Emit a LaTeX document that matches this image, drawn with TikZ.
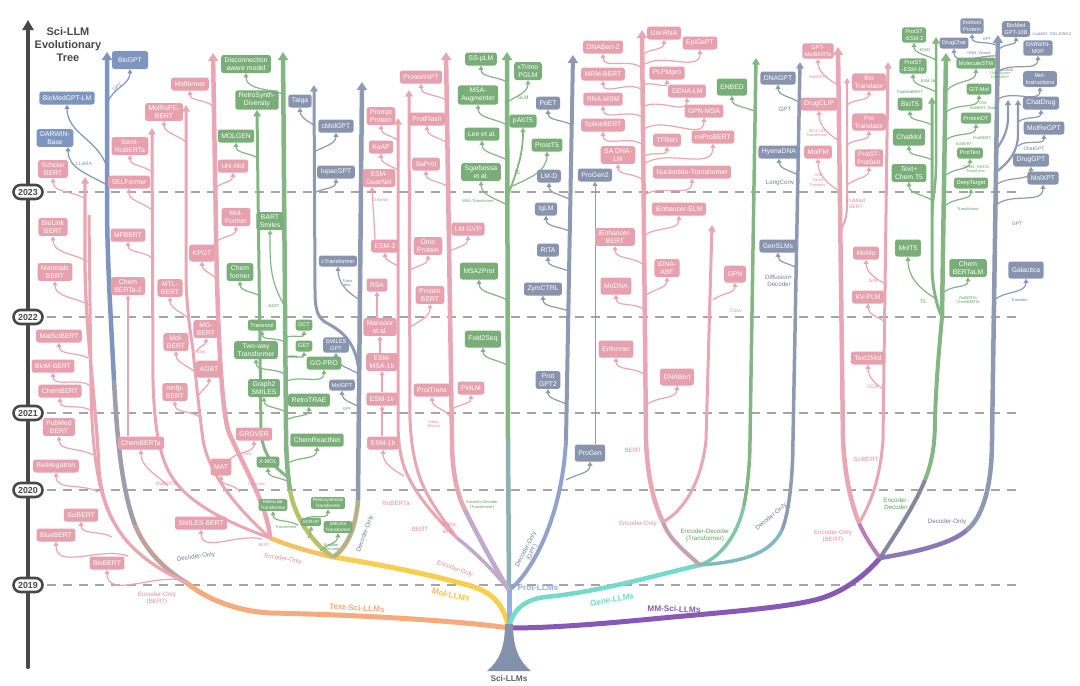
\documentclass[tikz,border=0pt]{standalone}
\usepackage{fontspec}
\setmainfont{Liberation Sans}
\usetikzlibrary{arrows.meta}
\definecolor{pk}{HTML}{E9A6B3}
\definecolor{pkb}{HTML}{E6A0AE}
\definecolor{pkt}{HTML}{E08D9D}
\definecolor{gn}{HTML}{84B684}
\definecolor{gnb}{HTML}{79AE79}
\definecolor{gnt}{HTML}{5E9E5E}
\definecolor{bg}{HTML}{8E9AB2}
\definecolor{bgb}{HTML}{8894AE}
\definecolor{bgt}{HTML}{6F7E9C}
\definecolor{bl}{HTML}{7D95BF}
\definecolor{orc}{HTML}{F5AB7B}
\definecolor{ylc}{HTML}{F9CE4E}
\definecolor{pbl}{HTML}{95ACE5}
\definecolor{tlc}{HTML}{74DACB}
\definecolor{ppc}{HTML}{8659B7}
\definecolor{dsh}{HTML}{A5A5A5}
\definecolor{axc}{HTML}{484848}
\definecolor{rootc}{HTML}{8391AB}
\pgfdeclarelayer{dash}
\pgfdeclarelayer{back}
\pgfsetlayers{dash,back,main}
\newcounter{lbc}
\newcommand\mylink[4]{\coordinate (s-#4) at (#2);\draw[cn,#1] (s-#4) to[out=#3,in=-90] (#4.south);}
\newcommand\mylab[3]{\stepcounter{lbc}\node[#1] (lab\arabic{lbc}) at (#2) {#3};}
\begin{document}
\begin{tikzpicture}[x=1pt,y=1pt,line cap=round,line join=round,
  cn/.style={line width=1.2pt,-{Triangle[width=4.8pt,length=4.2pt]}},
  tkA/.style={line width=5pt,-{Triangle[width=10pt,length=8pt]}},
  tkB/.style={line width=3pt,-{Triangle[width=7.5pt,length=6.5pt]}},
  bx/.style={rounded corners=2.5pt,inner xsep=3.5pt,inner ysep=2.4pt,text=white,align=center,font=\fontsize{6.8}{8.2}\selectfont,minimum height=13pt},
  pb/.style={bx,fill=pkb}, gb/.style={bx,fill=gnb}, bb/.style={bx,fill=bgb},
  md/.style={font=\fontsize{6.4}{7.8}\selectfont,inner xsep=2.5pt},
  sm/.style={font=\fontsize{5.6}{6.6}\selectfont,inner xsep=2.5pt,minimum height=11pt},
  tn/.style={font=\fontsize{4.6}{5.4}\selectfont,inner xsep=2pt,inner ysep=1.6pt,minimum height=8pt},
  hi/.style={minimum height=17pt},
  lbm/.style={font=\fontsize{6.2}{7}\selectfont,align=center,inner sep=0.5pt},
  lb/.style={font=\fontsize{5}{5.8}\selectfont,align=center,inner sep=0.5pt},
  lbs/.style={font=\fontsize{4}{4.7}\selectfont,align=center,inner sep=0.3pt},
  big/.style={font=\bfseries\fontsize{8.2}{9}\selectfont,inner sep=0.5pt},
  yr/.style={draw=axc,line width=2.6pt,fill=white,rounded corners=7pt,minimum width=29pt,minimum height=14pt,inner sep=0pt,font=\bfseries\fontsize{8.8}{10}\selectfont,text=axc},
  dl/.style={dsh,line width=2.8pt,dash pattern=on 9pt off 7pt,line cap=butt}
]
\useasboundingbox (0,0) rectangle (1080,-686);
\begin{pgfonlayer}{dash}
\fill[white] (0,0) rectangle (1080,-686);
\end{pgfonlayer}

% axis, title, years
\coordinate (axbot) at (28,-667); \coordinate (axtop) at (28,-20);
\draw[axc,line width=4.2pt,-{Triangle[width=11pt,length=10pt]}] (axbot) -- (axtop);
\node[font=\bfseries\fontsize{11}{13}\selectfont,text=axc,align=center] (title) at (68,-45) {Sci-LLM\\Evolutionary\\Tree};
\foreach \yy/\nm in {192/2023,317/2022,413/2021,490/2020,585/2019}{
  \node[yr] (y\nm) at (28,-\yy) {\nm};
  \coordinate (d\nm) at (1020,-\yy);
  \begin{pgfonlayer}{dash}
  \draw[dl] (y\nm.east) ++(3pt,0) -- (d\nm);
  \end{pgfonlayer}
}

% root
\coordinate (root) at (509,-628);
\fill[rootc] (505,-624) .. controls (505,-648) and (499,-661) .. (487,-671) -- (531,-671) .. controls (519,-661) and (513,-648) .. (513,-624) -- cycle;
\node[font=\bfseries\fontsize{8.3}{9}\selectfont,text=axc!85] (rootlab) at (509,-679) {Sci-LLMs};

% ---------- boxes: Text ----------
\node[bb,fill=bl,minimum height=18pt,minimum width=36pt] (biogpt) at (130,-60) {BioGPT};
\node[bb,fill=bl] (biomedgptlm) at (67,-98) {BioMedGPT-LM};
\node[bb,fill=bl] (darwinbase) at (55,-138) {DARWIN-\\Base};
\node[pb] (scholarbert) at (53,-169) {Scholar\\BERT};
\node[pb] (biolinkbert) at (53,-227) {BioLink\\BERT};
\node[pb] (materialsbert) at (55,-272) {Materials\\BERT};
\node[pb] (matscibert) at (59,-336) {MatSciBERT};
\node[pb] (biombert) at (53,-366) {BioM-BERT};
\node[pb] (chembert) at (60,-391) {ChemBERT};
\node[pb] (pubmedbert) at (59,-427) {PubMed\\BERT};
\node[pb] (biomegatron) at (56,-466) {BioMegatron};
\node[pb] (scibert) at (81,-515) {SciBERT};
\node[pb] (bluebert) at (56,-535) {BlueBERT};
\node[pb] (biobert) at (107,-563) {BioBERT};
% ---------- Mol pink ----------
\node[pb] (semiroberta) at (130,-146) {Semi-\\RoBERTa};
\node[pb] (selformer) at (129,-182) {SELFormer};
\node[pb] (mfbert) at (128,-235) {MFBERT};
\node[pb] (chemberta2) at (128,-286) {Chem\\BERTa-2};
\node[pb] (chemberta) at (141,-443) {ChemBERTa};
\node[pb] (molropebert) at (164,-112) {MolRoPE-\\BERT};
\node[pb] (mtlbert) at (170,-288) {MTL-\\BERT};
\node[pb] (molbert) at (176,-342) {Mol-\\BERT};
\node[pb] (mgbert) at (206,-329) {MG-\\BERT};
\node[pb,hi] (agbt) at (209,-369) {AGBT};
\node[pb] (mnfpbert) at (175,-392) {mnfp-\\BERT};
\node[pb] (molformer) at (190,-84) {Molformer};
\node[pb] (unimol) at (233,-166) {Uni-Mol};
\node[pb] (molformer2) at (236,-217) {Mol-\\Former};
\node[pb,hi] (kpgt) at (202,-253) {KPGT};
\node[pb] (grover) at (254,-434) {GROVER};
\node[pb,hi] (mat) at (221,-467) {MAT};
\node[pb] (smilesbert) at (201,-523) {SMILES-BERT};
% ---------- Mol green ----------
\node[gb] (disconn) at (246,-64) {Disconnection\\aware model};
\node[gb] (retrosynth) at (257,-100) {RetroSynth-\\Diversity};
\node[gb] (molgen) at (236,-136) {MOLGEN};
\node[gb] (bartsmiles) at (270,-221) {BART\\Smiles};
\node[gb] (chemformer) at (240,-272) {Chem\\former};
\node[gb,sm] (transmol) at (262,-325) {Transmol};
\node[gb] (twoway) at (256,-350) {Two-way\\Transformer};
\node[gb] (graph2smiles) at (264,-388) {Graph2\\SMILES};
\node[gb,sm] (gct) at (304,-325) {GCT};
\node[gb,sm] (get) at (304,-346) {GET};
\node[gb] (gopro) at (324,-363) {GO-PRO};
\node[gb] (retrotrae) at (309,-400) {RetroTRAE};
\node[gb] (chemreactnet) at (317,-440) {ChemReactNet};
\node[gb,sm] (xmol) at (268,-462) {X-MOL};
\node[gb,tn] (moltrans) at (273,-505) {Molecular\\Transformer};
\node[gb,tn] (retrotrans) at (328,-503) {Retrosynthesis\\Transformer};
\node[gb,tn] (scrop) at (311,-522) {SCROP};
\node[gb,tn] (smilestrans) at (338,-527) {SMILES\\Transformer};
% ---------- Mol blue ----------
\node[bb] (taiga) at (300,-101) {Taiga};
\node[bb] (cmolgpt) at (336,-126) {cMolGPT};
\node[bb] (iupacgpt) at (336,-172) {IupacGPT};
\node[bb,sm] (ctransformer) at (338,-261) {cTransformer};
\node[bb,sm] (smilesgpt) at (336,-345) {SMILES\\GPT};
\node[bb,sm] (molgpt) at (342,-385) {MolGPT};
% ---------- Prot pink ----------
\node[pb] (promptprotein) at (381,-116) {Prompt\\Protein};
\node[pb] (koap) at (381,-147) {KoAP};
\node[pb] (esmgearnet) at (379,-178) {ESM-\\GearNet};
\node[pb] (esm2) at (385,-246) {ESM-2};
\node[pb] (rsa) at (377,-285) {RSA};
\node[pb] (mansoor) at (380,-327) {Mansoor\\et al.};
\node[pb] (esmmsa) at (382,-362) {ESM-\\MSA-1b};
\node[pb] (esm1v) at (382,-399) {ESM-1v};
\node[pb] (esm1b) at (383,-443) {ESM-1b};
\node[pb] (proteinnpt) at (421,-77) {ProteinNPT};
\node[pb] (protflash) at (427,-119) {ProtFlash};
\node[pb] (saprot) at (426,-164) {SaProt};
\node[pb] (ontoprotein) at (428,-246) {Onto\\Protein};
\node[pb] (proteinbert) at (430,-295) {Protein\\BERT};
\node[pb] (lmgvp) at (468,-229) {LM-GVP};
\node[pb] (prottrans) at (432,-390) {ProtTrans};
\node[pb] (pmlm) at (471,-388) {PMLM};
% ---------- Prot green ----------
\node[gb] (ssplm) at (481,-59) {SS-pLM};
\node[gb] (msaaug) at (478,-95) {MSA-\\Augmenter};
\node[gb] (xtrimo) at (528,-71) {xTrimo\\PGLM};
\node[gb] (pabt5) at (523,-121) {pAbT5};
\node[gb] (leeetal) at (482,-134) {Lee et al.};
\node[gb] (prostt5) at (547,-145) {ProstT5};
\node[gb] (sgarbossa) at (481,-172) {Sgarbossa\\et al.};
\node[gb,hi] (msa2prot) at (479,-271) {MSA2Prot};
\node[gb,hi] (fold2seq) at (483,-339) {Fold2Seq};
% ---------- Prot blue ----------
\node[bb] (poet) at (548,-103) {PoET};
\node[bb] (lmd) at (549,-176) {LM-D};
\node[bb] (iglm) at (546,-209) {IgLM};
\node[bb] (rita) at (548,-250) {RITA};
\node[bb] (zymctrl) at (543,-289) {ZymCTRL};
\node[bb] (protgpt2) at (548,-380) {Prot\\GPT2};
\node[bb,hi] (progen) at (590,-453) {ProGen};
\node[bb] (progen2) at (595,-175) {ProGen2};
% ---------- Gene ----------
\node[pb] (dnabert2) at (603,-47) {DNABert-2};
\node[pb] (unirna) at (664,-33) {Uni-RNA};
\node[pb] (epigept) at (700,-43) {EpiGePT};
\node[pb] (mrmbert) at (603,-74) {MRM-BERT};
\node[pb] (plpmpro) at (667,-73) {PLPMpro};
\node[pb] (genalm) at (687,-91) {GENA-LM};
\node[pb] (rnamsm) at (603,-99) {RNA-MSM};
\node[pb] (gpnmsa) at (704,-111) {GPN-MSA};
\node[pb] (splicebert) at (603,-125) {SpliceBERT};
\node[pb] (tfbert) at (667,-140) {TFBert};
\node[pb] (miprobert) at (713,-137) {miProBERT};
\node[pb] (sadnalm) at (618,-155) {SA DNA-\\LM};
\node[pb] (nuctrans) at (692,-172) {Nucleotide-Transformer};
\node[pb] (ienhancerelm) at (679,-209) {iEnhancer-ELM};
\node[pb] (ienhancerbert) at (615,-237) {iEnhancer-\\BERT};
\node[pb] (idnaabf) at (667,-268) {iDNA-\\ABF};
\node[pb,hi] (modna) at (616,-286) {MoDNA};
\node[pb,hi] (enformer) at (616,-349) {Enformer};
\node[pb,hi] (dnabert) at (677,-377) {DNABert};
\node[pb,hi] (gpn) at (735,-274) {GPN};
\node[gb,hi] (enbed) at (732,-87) {ENBED};
\node[bb] (dnagpt) at (778,-78) {DNAGPT};
\node[bb] (hyenadna) at (779,-152) {HyenaDNA};
\node[bb] (genslms) at (778,-246) {GenSLMs};
% ---------- MM pink ----------
\node[pb,sm] (gptmolberta) at (818,-51) {GPT-\\MolBERTa};
\node[pb] (drugclip) at (819,-104) {DrugCLIP};
\node[pb] (molfm) at (818,-152) {MolFM};
\node[pb,md] (biotranslator) at (869,-82) {Bio\\Translator};
\node[pb,md] (protranslator) at (869,-122) {Pro\\Translator};
\node[pb,md] (protstprotbert) at (869,-158) {ProtST-\\ProtBert};
\node[pb] (momu) at (866,-253) {MoMu};
\node[pb] (kvplm) at (868,-297) {KV-PLM};
\node[pb] (text2mol) at (868,-358) {Text2Mol};
% ---------- MM green ----------
\node[gb,sm] (protstesm2) at (914,-35) {ProtST\\-ESM-2};
\node[gb,sm] (protstesm1b) at (913,-66) {ProtST\\-ESM-1b};
\node[gb] (biot5) at (910,-104) {BioT5};
\node[gb,hi] (chatmol) at (909,-137) {ChatMol};
\node[gb] (textchemt5) at (909,-173) {Text+\\Chem T5};
\node[gb,hi] (molt5) at (908,-248) {MolT5};
\node[gb,sm] (moleculestm) at (976,-63) {MoleculeSTM};
\node[gb,sm] (gitmol) at (979,-89) {GIT-Mol};
\node[gb,sm] (proteindt) at (976,-118) {ProteinDT};
\node[gb,sm] (prottext) at (970,-153) {ProtText};
\node[gb,sm] (deeptarget) at (971,-183) {DeepTarget};
\node[gb] (chembertalm) at (968,-268) {Chem\\BERTaLM};
% ---------- MM blue ----------
\node[bb,sm] (drugchat) at (954,-43) {DrugChat};
\node[bb,sm] (instructprotein) at (972,-26) {Instruct\\Protein};
\node[bb,sm] (biomedgpt10b) at (1016,-29) {BioMed\\GPT-10B};
\node[bb,sm] (darwinmdp) at (1038,-48) {DARWIN-\\MDP};
\node[bb,sm] (molinstructions) at (1040,-79) {Mol-\\Instructions};
\node[bb] (chatdrug) at (1041,-103) {ChatDrug};
\node[bb] (molregpt) at (1044,-128) {MolReGPT};
\node[bb] (druggpt) at (1031,-160) {DrugGPT};
\node[bb] (molxpt) at (1043,-178) {MolXPT};
\node[bb,hi] (galactica) at (1026,-270) {Galactica};

% ---------- labels ----------
\mylab{lb,text=bl,rotate=35}{117,-87}{GPT}
\mylab{lb,text=bl}{84,-164}{LLaMA}
\mylab{lbm,text=bgt,rotate=8}{196,-557}{Decoder-Only}
\mylab{lbm,text=pkt}{157,-598}{Encoder-Only\\(BERT)}
\mylab{lb,text=pkt}{167,-484}{RoBERTa}
\mylab{lbs,text=pkt}{247,-454}{GNN}
\mylab{lbs,text=pkt}{257,-484}{Trans.enc.}
\mylab{lbs,text=pkt}{201,-352}{GNN}
\mylab{lbs,text=pkt}{264,-545}{BERT}
\mylab{lbm,text=pkt,rotate=-10}{283,-559}{Encoder-Only}
\mylab{lbs,text=gnt}{274,-306}{BART}
\mylab{lbs,text=gnt}{293,-357}{GNN}
\mylab{lbs,text=gnt}{286,-527}{Transformer}
\mylab{lbs,text=gnt}{332,-547}{Encoder-\\Decoder}
\mylab{lbm,text=bgt,rotate=70}{365,-534}{Decoder-Only}
\mylab{lbs,text=bgt}{348,-283}{Trans.\\dec.}
\mylab{lbs,text=bgt}{347,-409}{GPT}
\mylab{lbs,text=pkt}{381,-200}{GearNet}
\mylab{lbs,text=pkt}{434,-424}{Albert,\\Electra}
\mylab{lbm,text=pkt}{396,-503}{RoBERTa}
\mylab{lbm,text=pkt}{420,-529}{BERT}
\mylab{lbm,text=pkt}{449,-528}{Trans.\\enc.}
\mylab{lbm,text=pkt,rotate=-20}{455,-569}{Encoder-Only}
\mylab{lbs,text=gnt}{482,-505}{Encoder-Decoder\\(Transformer)}
\mylab{lbm,text=bgt,rotate=62}{529,-551}{Decoder-Only\\(GPT)}
\mylab{lb,text=gnt}{523,-98}{GLM}
\mylab{lb,text=gnt}{517,-173}{T5}
\mylab{lbs,text=gnt}{478,-201}{MSA Transformer}
\mylab{lbm,text=pkt}{638,-524}{Encoder-Only}
\mylab{lbm,text=gnt}{705,-535}{Encoder-Decoder\\(Transformer)}
\mylab{lbm,text=bgt,rotate=40}{771,-517}{Decoder-Only}
\mylab{lbm,text=pkt}{633,-450}{BERT}
\mylab{lb,text=pkt}{736,-311}{Conv}
\mylab{lbm,text=bgt}{785,-109}{GPT}
\mylab{lbm,text=bgt}{780,-183}{LongConv}
\mylab{lbm,text=bgt}{779,-281}{Diffusion+\\Decoder}
\mylab{lbm,text=pkt}{866,-459}{SciBERT}
\mylab{lbm,text=gnt}{896,-504}{Encoder-\\Decoder}
\mylab{lbm,text=pkt}{833,-536}{Encoder-Only\\(BERT)}
\mylab{lbm,text=bgt}{947,-522}{Decoder-Only}
\mylab{lbs,text=pkt}{818,-77}{RoBERTa}
\mylab{lbs,text=pkt}{817,-133}{SE(3) 3D\\Transformer}
\mylab{lbs,text=pkt}{818,-180}{GIN\\Transf.\\Transenc.}
\mylab{lb,text=pkt}{856,-204}{PubMed\\BERT}
\mylab{lb,text=pkt}{873,-281}{GIN}
\mylab{lb,text=pkt}{873,-387}{GCN}
\mylab{lbs,text=gnt}{925,-50}{ESM2}
\mylab{lbs,text=gnt}{928,-81}{ESM-1b}
\mylab{lbs,text=gnt}{910,-92}{PubMedBERT}
\mylab{lb,text=gnt}{923,-302}{T5}
\mylab{lbs,text=gnt}{968,-300}{RoBERTa\\ChemBERTa}
\mylab{lbs,text=gnt,font=\fontsize{3.6}{4.1}\selectfont}{1000,-76}{Chemformer\\GraphMVP}
\mylab{lbs,text=gnt}{983,-106}{GIN\\SciBERT, Swin}
\mylab{lbs,text=gnt}{982,-138}{ProtBERT}
\mylab{lbs,text=gnt}{964,-144}{SciBERT}
\mylab{lbs,text=gnt}{976,-169}{GPM2, HGCN\\Transf.enc.}
\mylab{lbs,text=gnt}{968,-209}{Transformer}
\mylab{lbs,text=bgt}{987,-39}{GPT}
\mylab{lbs,text=bgt}{979,-53}{GNN, Vicuna}
\mylab{lbs,text=bgt}{1052,-34}{LLaMA2, GIN, ESM-2}
\mylab{lbs,text=bgt}{1007,-70}{LLaMA}
\mylab{lb,text=bgt}{1034,-149}{ChatGPT}
\mylab{lb,text=bgt}{1017,-224}{GPT}
\mylab{lbs,text=bgt}{1020,-300}{Transdec.}
\mylab{big,text=orc,rotate=-3}{357,-608}{Text-Sci-LLMs}
\mylab{big,text=ylc!85!orange,rotate=-12}{451,-595}{Mol-LLMs}
\mylab{big,text=pbl}{538,-588}{Prot-LLMs}
\mylab{big,text=tlc,rotate=10}{612,-600}{Gene-LLMs}
\mylab{big,text=ppc,rotate=-2}{674,-609}{MM-Sci-LLMs}

\begin{pgfonlayer}{back}
% ===== Text-Sci-LLMs =====
\coordinate (fkT) at (187,-583);
\draw[orc,line width=5pt] (root) .. controls (470,-622) and (370,-615) .. (270,-613) .. controls (235,-611) and (205,-598) .. (fkT);
\coordinate (td1) at (135,-525); \coordinate (td2) at (114,-380); \coordinate (tdtop) at (107,-52);
\draw[orc!55!bl,line width=4.5pt] (fkT) .. controls (165,-570) and (145,-550) .. (td1);
\draw[bl!70!orc,line width=4.5pt] (td1) .. controls (122,-490) and (117,-440) .. (td2);
\draw[bl,tkA,line width=4.5pt] (td2) .. controls (111,-320) and (107,-260) .. (107,-200) -- (tdtop);
\coordinate (te1top) at (85,-177);
\draw[pk,tkB,line width=3.3pt] (fkT) .. controls (150,-565) and (105,-540) .. (99,-470) .. controls (96,-400) and (85,-330) .. (85,-260) -- (te1top);
\coordinate (te2a) at (114,-522); \coordinate (te2top) at (89,-215);
\draw[pk,line width=3pt] (te2a) .. controls (97,-495) and (92,-445) .. (91,-390) -- (te2top);
\mylink{pk}{84,-198}{150}{scholarbert}
\mylink{pk}{89,-262}{150}{biolinkbert}
\mylink{pk}{89,-305}{150}{materialsbert}
\mylink{pk}{88,-358}{150}{matscibert}
\mylink{pk}{89,-385}{150}{biombert}
\mylink{pk}{90,-410}{150}{chembert}
\mylink{pk}{93,-455}{150}{pubmedbert}
\mylink{pk}{98,-492}{150}{biomegatron}
\mylink{pk}{112,-537}{150}{scibert}
\mylink{pk}{128,-556}{160}{bluebert}
\mylink{pk}{180,-580}{170}{biobert}
\mylink{bl}{108,-102}{70}{biogpt}
\mylink{bl}{107,-168}{105}{biomedgptlm}
\coordinate (s-darwinbase) at (107,-185);
\draw[cn,bl] (s-darwinbase) to[out=150,in=-90] ([xshift=13pt]darwinbase.south);

% ===== Mol-LLMs =====
\coordinate (fkM) at (333,-557); \coordinate (fkME) at (270,-538);
\draw[ylc,line width=5pt] (root) .. controls (502,-600) and (490,-590) .. (460,-583) .. controls (420,-572) and (370,-563) .. (fkM);
\draw[ylc!60!orc,line width=4.5pt] (fkM) .. controls (310,-552) and (290,-546) .. (fkME);
\draw[pk,tkB] (fkME) .. controls (235,-525) and (185,-505) .. (168,-470) .. controls (158,-450) and (154,-420) .. (153,-380) -- (152,-128);
\draw[pk,tkB] (fkME) .. controls (245,-515) and (210,-480) .. (203,-440) .. controls (199,-410) and (196,-380) .. (193,-350) .. controls (190,-330) and (187,-310) .. (186,-280) -- (186,-105);
\draw[pk,tkA,line width=4.5pt] (fkME) .. controls (268,-505) and (240,-460) .. (228,-430) .. controls (220,-400) and (217,-300) .. (216,-230) -- (213,-53);
\mylink{pk}{152,-172}{140}{semiroberta}
\mylink{pk}{152,-210}{140}{selformer}
\mylink{pk}{152,-258}{140}{mfbert}
\draw[cn,pk] (chemberta2.south |- chemberta.north) -- (chemberta2.south);
\mylink{pk}{168,-486}{135}{chemberta}
\mylink{pk}{186,-142}{140}{molropebert}
\mylink{pk}{188,-318}{140}{mtlbert}
\mylink{pk}{195,-372}{140}{molbert}
\mylink{pk}{196,-352}{60}{mgbert}
\mylink{pk}{199,-395}{60}{agbt}
\mylink{pk}{201,-418}{140}{mnfpbert}
\mylink{pk}{213,-106}{140}{molformer}
\mylink{pk}{215,-188}{40}{unimol}
\mylink{pk}{216,-242}{40}{molformer2}
\mylink{pk}{216,-278}{140}{kpgt}
\mylink{pk}{228,-462}{60}{grover}
\mylink{pk}{240,-492}{120}{mat}
\mylink{pk}{262,-539}{165}{smilesbert}
% green
\coordinate (g1a) at (290,-490);
\draw[ylc!45!gn,line width=4.5pt] (fkM) .. controls (315,-545) and (295,-520) .. (g1a);
\draw[gn,tkA,line width=4.5pt] (g1a) .. controls (287,-470) and (286,-450) .. (286,-430) -- (283,-52);
\coordinate (g2a) at (289,-478);
\draw[gn,tkB] (g2a) .. controls (275,-468) and (262,-455) .. (261,-430) -- (retrosynth.south);
\mylink{gn}{283,-94}{160}{disconn}
\mylink{gn}{258,-158}{150}{molgen}
\mylink{gn}{284,-305}{120}{bartsmiles}
\mylink{gn}{260,-296}{150}{chemformer}
\mylink{gn}{285,-342}{150}{transmol}
\mylink{gn}{285,-374}{150}{twoway}
\mylink{gn}{286,-412}{150}{graph2smiles}
\mylink{gn}{285,-338}{30}{gct}
\mylink{gn}{285,-358}{30}{get}
\mylink{gn}{285,-382}{30}{gopro}
\mylink{gn}{286,-420}{30}{retrotrae}
\mylink{gn}{288,-463}{30}{chemreactnet}
\mylink{gn}{289,-482}{150}{xmol}
\mylink{gn}{298,-525}{150}{moltrans}
\mylink{gn}{301,-522}{60}{retrotrans}
\mylink{gn}{308,-538}{60}{scrop}
\mylink{gn}{320,-551}{45}{smilestrans}
% blue
\coordinate (b1a) at (358,-500);
\draw[ylc!40!bg,line width=4.5pt] (fkM) .. controls (345,-550) and (356,-530) .. (b1a);
\draw[bg,tkA,line width=4.5pt] (b1a) -- (362,-82);
\coordinate (b2a) at (359,-372);
\draw[bg,tkB] (b2a) .. controls (356,-340) and (340,-330) .. (325,-322) .. controls (316,-316) and (315,-305) .. (315,-290) -- (314,-85);
\mylink{bg}{314,-125}{150}{taiga}
\mylink{bg}{314,-152}{30}{cmolgpt}
\mylink{bg}{314,-193}{30}{iupacgpt}
\mylink{bg}{360,-300}{150}{ctransformer}
\mylink{bg}{359,-374}{150}{smilesgpt}
\mylink{bg}{359,-407}{150}{molgpt}

% ===== Prot-LLMs =====
\coordinate (fkP) at (509,-590);
\draw[pbl,line width=5pt] (root) -- (fkP);
\coordinate (pga) at (508,-440);
\draw[pbl!50!gn,line width=4.5pt] (fkP) -- (pga);
\draw[gn,tkA,line width=4.5pt] (pga) -- (507,-52);
\coordinate (pda) at (566,-440);
\draw[pbl!50!bg,line width=4pt] (fkP) .. controls (530,-575) and (562,-520) .. (pda);
\draw[bg,tkA,line width=4pt] (pda) -- (573,-55);
\coordinate (fkPE) at (457,-538);
\draw[pbl!50!pk,line width=3.5pt] (fkP) .. controls (495,-572) and (475,-552) .. (fkPE);
\draw[pk,tkB] (fkPE) .. controls (440,-522) and (420,-500) .. (410,-480) .. controls (402,-465) and (398,-450) .. (398,-420) -- (398,-118);
\draw[pk,tkB] (fkPE) .. controls (442,-518) and (425,-496) .. (418,-472) .. controls (413,-455) and (411,-440) .. (410,-420) -- (409,-90);
\coordinate (pp3a) at (465,-510);
\draw[pbl!45!pk,line width=4.5pt] (fkP) .. controls (495,-568) and (475,-530) .. (pp3a);
\draw[pk,tkA,line width=4.5pt] (pp3a) .. controls (455,-490) and (452,-465) .. (452,-440) -- (446,-52);
\mylink{pk}{398,-140}{150}{promptprotein}
\mylink{pk}{398,-170}{150}{koap}
\draw[cn,pk] ([xshift=-10pt]esm2.north) -- ([xshift=-7pt]esmgearnet.south);
\mylink{pk}{398,-266}{150}{esm2}
\draw[cn,pk] (rsa.south |- mansoor.north) -- (rsa.south);
\draw[cn,pk] (mansoor.south |- esmmsa.north) -- (mansoor.south);
\draw[cn,pk] (esmmsa.south |- esm1v.north) -- (esmmsa.south);
\draw[cn,pk] (esm1v.south |- esm1b.north) -- (esm1v.south);
\mylink{pk}{404,-476}{150}{esm1b}
\mylink{pk}{446,-100}{150}{proteinnpt}
\mylink{pk}{446,-142}{150}{protflash}
\mylink{pk}{447,-186}{150}{saprot}
\mylink{pk}{410,-270}{30}{ontoprotein}
\mylink{pk}{410,-327}{30}{proteinbert}
\mylink{pk}{448,-252}{30}{lmgvp}
\mylink{pk}{451,-418}{120}{prottrans}
\mylink{pk}{451,-410}{40}{pmlm}
\mylink{gn}{507,-82}{150}{ssplm}
\mylink{gn}{507,-125}{150}{msaaug}
\mylink{gn}{507,-102}{30}{xtrimo}
\mylink{gn}{507,-160}{150}{leeetal}
\mylink{gn}{507,-205}{150}{sgarbossa}
\coordinate (t5s) at (507,-198);
\draw[cn,gn,line width=1.8pt] (t5s) to[out=70,in=-90] (pabt5.south);
\mylink{gn}{508,-188}{25}{prostt5}
\mylink{gn}{507,-300}{150}{msa2prot}
\mylink{gn}{507,-365}{150}{fold2seq}
\mylink{bg}{572,-125}{150}{poet}
\mylink{bg}{571,-200}{150}{lmd}
\mylink{bg}{571,-232}{150}{iglm}
\mylink{bg}{570,-272}{150}{rita}
\mylink{bg}{570,-312}{150}{zymctrl}
\mylink{bg}{568,-405}{150}{protgpt2}
\mylink{bg}{566,-480}{30}{progen}
\draw[cn,bg,line width=1pt] (progen2.south |- progen.north) -- (progen2.south);

% ===== Gene-LLMs =====
\coordinate (fkG) at (700,-565);
\draw[tlc,line width=4.5pt] (root) .. controls (512,-612) and (522,-600) .. (545,-597) .. controls (600,-592) and (660,-574) .. (fkG);
\coordinate (fkGE) at (663,-522);
\draw[pk!60!bg,line width=4pt] (fkG) .. controls (685,-552) and (668,-538) .. (fkGE);
\draw[pk,tkA,line width=4.5pt] (fkGE) .. controls (652,-500) and (647,-470) .. (646,-440) -- (642,-30);
\draw[pk,tkB] (fkGE) .. controls (685,-510) and (702,-480) .. (706,-440) -- (712,-225);
\coordinate (gga) at (744,-505);
\draw[tlc!50!gn,line width=3.5pt] (fkG) .. controls (720,-558) and (738,-535) .. (gga);
\draw[gn,tkB,line width=3.5pt] (gga) .. controls (748,-485) and (750,-460) .. (750,-440) -- (756,-58);
\coordinate (gba) at (782,-530);
\draw[tlc!50!bg,line width=3.5pt] (fkG) .. controls (740,-562) and (770,-555) .. (gba);
\draw[bg,tkB,line width=3.5pt] (gba) .. controls (790,-510) and (793,-470) .. (793,-440) -- (800,-62);
\mylink{pk}{642,-55}{40}{unirna}
\mylink{pk}{642,-66}{40}{epigept}
\mylink{pk}{642,-68}{140}{dnabert2}
\mylink{pk}{642,-90}{140}{mrmbert}
\mylink{pk}{642,-86}{40}{plpmpro}
\mylink{pk}{642,-108}{40}{genalm}
\mylink{pk}{643,-118}{140}{rnamsm}
\mylink{pk}{643,-130}{40}{gpnmsa}
\mylink{pk}{643,-145}{140}{splicebert}
\mylink{pk}{643,-157}{40}{tfbert}
\mylink{pk}{643,-165}{40}{miprobert}
\mylink{pk}{643,-180}{140}{sadnalm}
\mylink{pk}{643,-196}{40}{nuctrans}
\mylink{pk}{644,-236}{40}{ienhancerelm}
\mylink{pk}{644,-265}{140}{ienhancerbert}
\mylink{pk}{645,-296}{40}{idnaabf}
\mylink{pk}{645,-310}{140}{modna}
\mylink{pk}{645,-375}{140}{enformer}
\mylink{pk}{646,-405}{40}{dnabert}
\mylink{pk}{713,-300}{40}{gpn}
\mylink{gn}{756,-112}{150}{enbed}
\mylink{bg}{799,-102}{150}{dnagpt}
\mylink{bg}{798,-175}{150}{hyenadna}
\mylink{bg}{797,-268}{150}{genslms}

% ===== MM-Sci-LLMs =====
\coordinate (fkMM) at (880,-558);
\draw[ppc,line width=5pt] (root) .. controls (560,-628) and (620,-622) .. (673,-617) .. controls (740,-611) and (800,-606) .. (825,-597) .. controls (850,-588) and (868,-572) .. (fkMM);
\coordinate (fkMP) at (859,-523);
\draw[ppc!50!pk,line width=4pt] (fkMM) .. controls (872,-547) and (864,-535) .. (fkMP);
\draw[pk,tkA,line width=4.5pt] (fkMP) .. controls (852,-505) and (845,-480) .. (843,-440) -- (838,-47);
\draw[pk,tkB] (fkMP) .. controls (870,-505) and (880,-480) .. (883,-440) -- (888,-62);
\coordinate (mp3) at (839,-232);
\draw[pk,line width=2pt,-{Triangle[width=6pt,length=5pt]}] (mp3) .. controls (844,-225) and (847,-218) .. (847,-205) -- (847,-78);
\coordinate (mga) at (925,-480); \coordinate (fkMG) at (942,-317);
\draw[ppc!50!gn,line width=4pt] (fkMM) .. controls (895,-535) and (915,-505) .. (mga);
\draw[gn,line width=4pt] (mga) .. controls (932,-462) and (935,-445) .. (935,-420) .. controls (936,-380) and (940,-340) .. (fkMG);
\draw[gn,tkA,line width=4.5pt] (fkMG) -- (946,-53);
\draw[gn,tkB] (fkMG) .. controls (936,-305) and (932,-285) .. (932,-265) -- (932,-97);
\coordinate (mgc) at (932,-215);
\draw[gn,tkB,line width=2.5pt] (mgc) .. controls (933,-195) and (936,-185) .. (936,-165) -- (936,-37);
\coordinate (mba) at (967,-530);
\draw[ppc!50!bg,line width=4.5pt] (fkMM) .. controls (910,-553) and (950,-545) .. (mba);
\draw[bg,tkA,line width=4.5pt] (mba) .. controls (985,-515) and (992,-480) .. (992,-440) -- (998,-35);
\coordinate (mb1) at (996,-150);
\draw[bg,line width=2.2pt,-{Triangle[width=6pt,length=5pt]}] (mb1) .. controls (1003,-140) and (1008,-130) .. (1008,-118) -- (1008,-100);
\coordinate (mb2) at (996,-172);
\draw[bg,line width=2.2pt,-{Triangle[width=6pt,length=5pt]}] (mb2) .. controls (1010,-162) and (1018,-150) .. (1018,-135) -- (1018,-100);
\mylink{pk}{838,-85}{150}{gptmolberta}
\mylink{pk}{838,-140}{150}{drugclip}
\mylink{pk}{838,-190}{150}{molfm}
\mylink{pk}{847,-105}{40}{biotranslator}
\mylink{pk}{847,-145}{40}{protranslator}
\mylink{pk}{847,-185}{40}{protstprotbert}
\mylink{pk}{887,-285}{150}{momu}
\mylink{pk}{886,-322}{150}{kvplm}
\mylink{pk}{885,-390}{150}{text2mol}
\mylink{gn}{936,-60}{150}{protstesm2}
\mylink{gn}{936,-92}{150}{protstesm1b}
\mylink{gn}{932,-125}{150}{biot5}
\mylink{gn}{932,-160}{150}{chatmol}
\mylink{gn}{932,-200}{150}{textchemt5}
\mylink{gn}{938,-300}{150}{molt5}
\mylink{gn}{946,-92}{60}{moleculestm}
\mylink{gn}{946,-112}{40}{gitmol}
\mylink{gn}{946,-140}{40}{proteindt}
\mylink{gn}{946,-175}{40}{prottext}
\mylink{gn}{946,-205}{40}{deeptarget}
\mylink{gn}{944,-292}{40}{chembertalm}
\mylink{bg}{998,-46}{150}{instructprotein}
\mylink{bg}{998,-56}{175}{drugchat}
\mylink{bg}{998,-50}{50}{biomedgpt10b}
\mylink{bg}{998,-72}{40}{darwinmdp}
\mylink{bg}{997,-100}{40}{molinstructions}
\mylink{bg}{1018,-122}{40}{chatdrug}
\mylink{bg}{1018,-146}{40}{molregpt}
\mylink{bg}{996,-185}{40}{druggpt}
\mylink{bg}{996,-205}{40}{molxpt}
\mylink{bg}{994,-300}{40}{galactica}
\end{pgfonlayer}
\end{tikzpicture}
\end{document}
